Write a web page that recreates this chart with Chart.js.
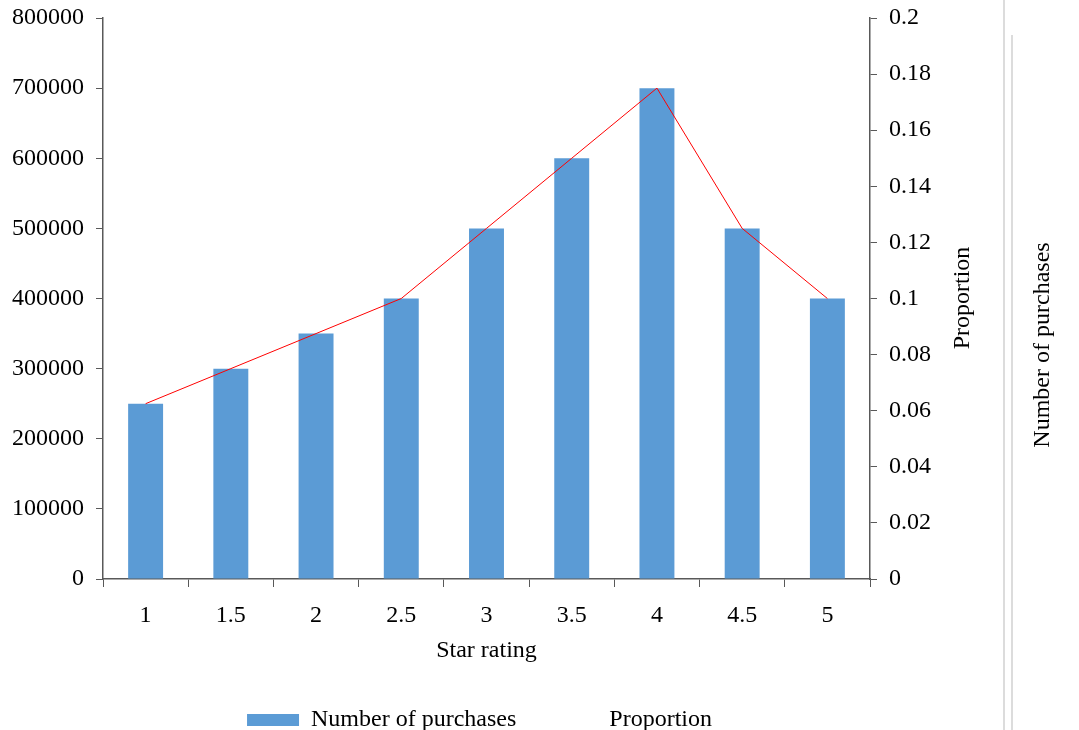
<!DOCTYPE html>
<html>
<head>
<meta charset="utf-8">
<script src="https://cdn.jsdelivr.net/npm/chart.js@4"></script>
<style>
  html, body { margin: 0; padding: 0; background: #fff; overflow: hidden; }
  canvas { display: block; }
</style>
</head>
<body>
<canvas id="chart" width="1079" height="730"></canvas>
<script>
const starRatings = ['1', '1.5', '2', '2.5', '3', '3.5', '4', '4.5', '5'];
const purchases = [250000, 300000, 350000, 400000, 500000, 600000, 700000, 500000, 400000];
const proportion = [0.0625, 0.075, 0.0875, 0.1, 0.125, 0.15, 0.175, 0.125, 0.1];

const serif = 'Liberation Serif';
const axisColor = '#595959';

// extra bits drawn on the right of the plot: the left-reading axis title and the stray panel edge
const sideDecor = {
    id: 'sideDecor',
    afterDraw(chart) {
        const c = chart.ctx;
        c.save();
        c.fillStyle = '#000';
        c.font = '24px "' + serif + '"';
        c.textAlign = 'center';
        c.textBaseline = 'middle';
        c.translate(963, 298);
        c.rotate(-Math.PI / 2);
        c.fillText('Proportion', 0, 0);
        c.restore();

        c.save();
        c.strokeStyle = '#dcdcdc';
        c.lineWidth = 2;
        c.beginPath();
        c.moveTo(1004, 0);
        c.lineTo(1004, 730);
        c.moveTo(1012, 35);
        c.lineTo(1012, 730);
        c.stroke();
        c.fillStyle = '#000';
        c.font = '24px "' + serif + '"';
        c.textAlign = 'center';
        c.textBaseline = 'middle';
        c.translate(1043, 345);
        c.rotate(-Math.PI / 2);
        c.fillText('Number of purchases', 0, 0);
        c.restore();
    }
};

const ctx = document.getElementById('chart').getContext('2d');
const chart = new Chart(ctx, {
    type: 'bar',
    data: {
        labels: starRatings,
        datasets: [
            {
                label: 'Number of purchases',
                data: purchases,
                backgroundColor: '#5b9bd5',
                barPercentage: 0.41,
                categoryPercentage: 1,
                yAxisID: 'y',
                order: 2
            },
            {
                type: 'line',
                label: 'Proportion',
                data: proportion,
                borderColor: '#ff0000',
                borderWidth: 1,
                pointRadius: 0,
                tension: 0,
                fill: false,
                yAxisID: 'y2',
                order: 1
            }
        ]
    },
    options: {
        responsive: false,
        animation: false,
        devicePixelRatio: 1,
        layout: { padding: { top: 18, left: 0, right: 120, bottom: -12 } },
        plugins: {
            tooltip: { enabled: false },
            legend: {
                position: 'bottom',
                labels: {
                    color: '#000',
                    font: { family: serif, size: 24 },
                    boxWidth: 52,
                    boxHeight: 12,
                    padding: 29,
                    generateLabels: (ch) => ch.data.datasets.map((ds, i) => ({
                        text: ds.label,
                        fillStyle: i === 0 ? '#5b9bd5' : 'rgba(0,0,0,0)',
                        strokeStyle: 'rgba(0,0,0,0)',
                        lineWidth: 0,
                        datasetIndex: i
                    }))
                }
            }
        },
        scales: {
            x: {
                offset: true,
                grid: { display: true, drawOnChartArea: false, offset: true, tickLength: 8, color: axisColor },
                border: { color: axisColor, width: 1.5 },
                ticks: { color: '#000', font: { family: serif, size: 24 }, padding: 14, maxRotation: 0 },
                title: { display: true, text: 'Star rating', color: '#000', font: { family: serif, size: 24 }, padding: { top: 4, bottom: 14 } },
                afterFit: (s) => { s.height = 100; }
            },
            y: {
                position: 'left',
                min: 0,
                max: 800000,
                grid: { drawOnChartArea: false, tickLength: 7, color: axisColor },
                border: { color: axisColor, width: 1.5 },
                ticks: {
                    stepSize: 100000,
                    color: '#000',
                    font: { family: serif, size: 24 },
                    padding: 12,
                    callback: (v) => String(v)
                },
                afterFit: (s) => { s.width = 103; s.paddingTop = 0; s.paddingBottom = 0; }
            },
            y2: {
                position: 'right',
                min: 0,
                max: 0.2,
                grid: { drawOnChartArea: false, tickLength: 7, color: axisColor },
                border: { color: axisColor, width: 1.5 },
                ticks: {
                    stepSize: 0.02,
                    color: '#000',
                    font: { family: serif, size: 24 },
                    padding: 12,
                    callback: (v) => String(+v.toFixed(2))
                },
                afterFit: (s) => { s.width = 89; s.paddingTop = 0; s.paddingBottom = 0; }
            }
        }
    },
    plugins: [sideDecor]
});
</script>
</body>
</html>
